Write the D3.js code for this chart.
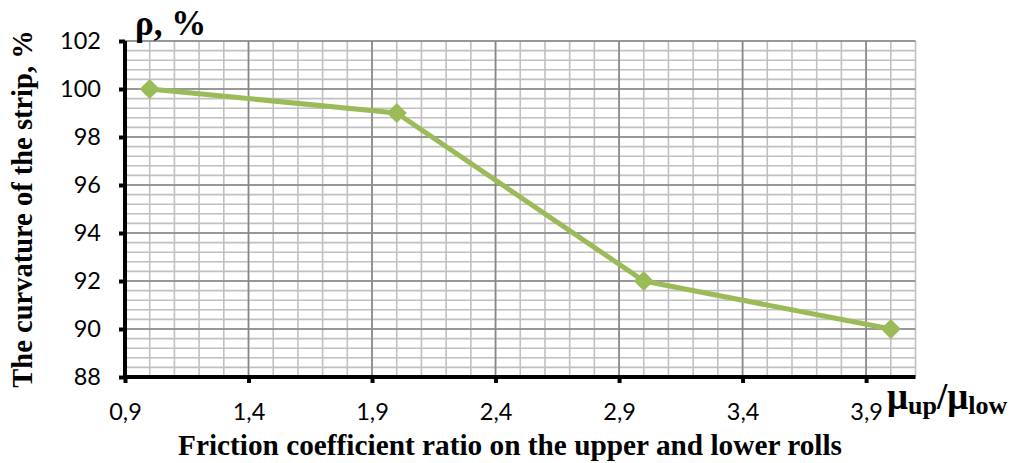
<!DOCTYPE html>
<html><head><meta charset="utf-8">
<script src="https://cdn.jsdelivr.net/npm/d3@7"></script>
<style>body{margin:0;background:#fff}svg{display:block}</style>
</head><body>
<svg id="c" width="1016" height="463"></svg>
<script>
const xValues = [1, 2, 3, 4];
const yValues = [100, 99, 92, 90];
const xTicks = [0.9, 1.4, 1.9, 2.4, 2.9, 3.4, 3.9];
const yTicks = [88, 90, 92, 94, 96, 98, 100, 102];
const xTitle = "Friction coefficient ratio on the upper and lower rolls";
const yTitle = "The curvature of the strip, %";

const svg = d3.select("#c");
const L = 125, R = 915.5, T = 41, B = 377;
const x = d3.scaleLinear().domain([0.9, 4.1]).range([L, R]);
const y = d3.scaleLinear().domain([88, 102]).range([B, T]);

const g = svg.append("g");
// minor vertical grid
const minorX = d3.range(10, 42).map(v => v / 10);
g.selectAll(".mvx").data(minorX).enter().append("line")
  .attr("x1", d => x(d)).attr("x2", d => x(d)).attr("y1", T).attr("y2", B)
  .attr("stroke", "#c0c0c0").attr("stroke-width", 1.6);
// minor horizontal grid
const minorY = d3.range(0, 36).map(i => 88 + i * 0.4);
g.selectAll(".mhy").data(minorY).enter().append("line")
  .attr("x1", L).attr("x2", R).attr("y1", d => y(d)).attr("y2", d => y(d))
  .attr("stroke", "#c0c0c0").attr("stroke-width", 1.6);
// major grid
g.selectAll(".Mx").data(xTicks.slice(1)).enter().append("line")
  .attr("x1", d => x(d)).attr("x2", d => x(d)).attr("y1", T).attr("y2", B)
  .attr("stroke", "#868686").attr("stroke-width", 1.6);
g.selectAll(".My").data(yTicks.slice(1)).enter().append("line")
  .attr("x1", L).attr("x2", R).attr("y1", d => y(d)).attr("y2", d => y(d))
  .attr("stroke", "#868686").attr("stroke-width", 1.6);

// axes
const tickFont = "Lato, 'Open Sans', sans-serif";
const xAxis = d3.axisBottom(x).tickValues(xTicks).tickSize(6).tickPadding(20)
  .tickFormat(d => d3.format(".1f")(d).replace(".", ","));
const yAxis = d3.axisLeft(y).tickValues(yTicks).tickSize(6).tickPadding(18)
  .tickFormat(d3.format("d"));
const gx = svg.append("g").attr("transform", `translate(0,${B})`).call(xAxis);
const gy = svg.append("g").attr("transform", `translate(${L},0)`).call(yAxis);
[gx, gy].forEach(a => {
  a.attr("font-family", tickFont).attr("font-size", 23.5);
  a.select(".domain").attr("stroke", "#000").attr("stroke-width", 4);
  a.selectAll(".tick line").attr("stroke", "#000").attr("stroke-width", 4);
  a.selectAll("text").attr("font-family", tickFont)
    .attr("font-size", 23.5).attr("fill", "#000");
});
gx.select(".domain").attr("d", `M${L - 2},0H${R}`);
gy.select(".domain").attr("d", `M0,${B + 2}V${T}`);

// line
const pts = xValues.map((v, i) => [v, yValues[i]]);
svg.append("path").datum(pts)
  .attr("d", d3.line().x(d => x(d[0])).y(d => y(d[1])))
  .attr("fill", "none").attr("stroke", "#9bbb59").attr("stroke-width", 5)
  .attr("stroke-linejoin", "round");
const m = 10;
svg.selectAll(".pt").data(pts).enter().append("path")
  .attr("transform", d => `translate(${x(d[0])},${y(d[1])})`)
  .attr("d", `M0,${-m}L${m},0L0,${m}L${-m},0Z`)
  .attr("fill", "#9bbb59");

// titles
const serif = "'Liberation Serif', 'Times New Roman', serif";
svg.append("text").attr("x", 135).attr("y", 35).attr("font-family", serif)
  .attr("font-weight", "bold").attr("font-size", 35).text("ρ, %");
svg.append("text").attr("transform", "translate(32,209) rotate(-90)")
  .attr("text-anchor", "middle").attr("font-family", serif)
  .attr("font-weight", "bold").attr("font-size", 28.5).text(yTitle);
svg.append("text").attr("x", 510).attr("y", 455).attr("text-anchor", "middle")
  .attr("font-family", serif).attr("font-weight", "bold").attr("font-size", 29.3).text(xTitle);
const mu = svg.append("text").attr("x", 887).attr("y", 409).attr("font-family", serif)
  .attr("font-weight", "bold").attr("font-size", 37);
mu.append("tspan").text("μ");
mu.append("tspan").attr("font-size", 26).attr("dy", 5).text("up");
mu.append("tspan").attr("dy", -5).text("/μ");
mu.append("tspan").attr("font-size", 26).attr("dy", 5).text("low");
</script>
</body></html>
